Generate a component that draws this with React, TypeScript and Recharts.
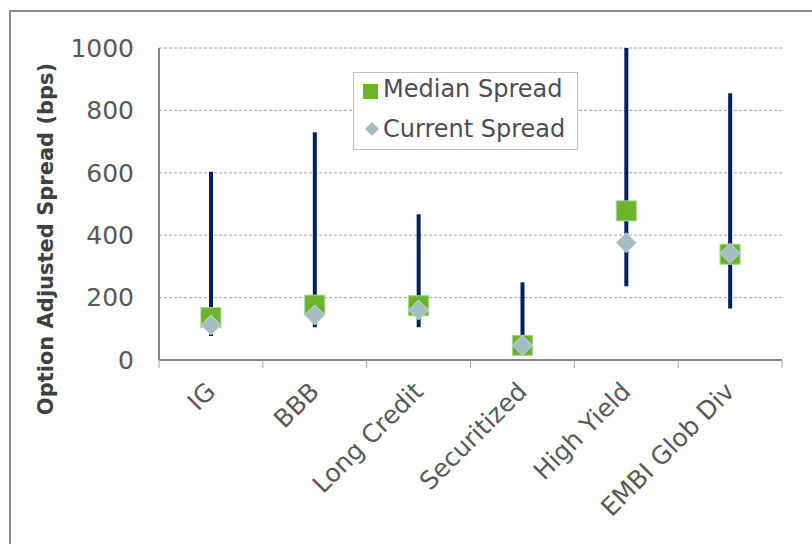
import { ComposedChart, Bar, Line, XAxis, YAxis, CartesianGrid, ReferenceArea, Legend } from 'recharts';

// Option adjusted spread ranges (bps)
const sectors = ['IG', 'BBB', 'Long Credit', 'Securitized', 'High Yield', 'EMBI Glob Div'];
const lowSpread = [77, 105, 105, 30, 236, 165];
const highSpread = [603, 730, 467, 249, 1000, 855];
const medianSpread = [136, 176, 174, 47, 478, 339];
const currentSpread = [112, 144, 160, 47, 376, 342];
const yTicks = [0, 200, 400, 600, 800, 1000];

const FONT = '"DejaVu Sans", Verdana, sans-serif';
const NAVY = '#002060';
const GREEN = '#6CB42C';
const GREY_BLUE = '#A3BDC0';

const data = sectors.map((name, i) => ({
  name,
  range: [lowSpread[i], highSpread[i]],
  median: medianSpread[i],
  current: currentSpread[i],
}));

function SquareDot(props: any) {
  const { cx, cy } = props;
  if (cx == null || cy == null) return null;
  return <rect x={cx - 10} y={cy - 10} width={20} height={20} fill={GREEN} stroke="#A9D18E" strokeWidth={1} />;
}

function DiamondDot(props: any) {
  const { cx, cy } = props;
  if (cx == null || cy == null) return null;
  const r = 10;
  return (
    <polygon
      points={`${cx},${cy - r} ${cx + r},${cy} ${cx},${cy + r} ${cx - r},${cy}`}
      fill={GREY_BLUE}
      stroke="#C9D8DA"
      strokeWidth={1}
    />
  );
}

// category label plus the tick marks on the band edges
function SectorTick(props: any) {
  const { x, y, payload, index, width } = props;
  const half = width / sectors.length / 2;
  const last = index === sectors.length - 1;
  return (
    <g>
      <line x1={x - half} x2={x - half} y1={y} y2={y + 8} stroke="#A6A6A6" />
      {last && <line x1={x + half} x2={x + half} y1={y} y2={y + 8} stroke="#A6A6A6" />}
      <text
        transform={`translate(${x + 6},${y + 33}) rotate(-45)`}
        textAnchor="end"
        fontFamily={FONT}
        fontSize={25}
        fill="#595959"
      >
        {payload.value}
      </text>
    </g>
  );
}

function LegendBox() {
  return (
    <div
      style={{
        width: 223,
        height: 76,
        border: '1px solid #BFBFBF',
        background: '#fff',
        fontFamily: FONT,
        fontSize: 24,
        color: '#4D4D55',
        position: 'relative',
      }}
    >
      <div style={{ position: 'absolute', left: 9, top: 11, width: 15, height: 15, background: GREEN }} />
      <div style={{ position: 'absolute', left: 29, top: 2, whiteSpace: 'nowrap' }}>Median Spread</div>
      <svg style={{ position: 'absolute', left: 11, top: 49 }} width={14} height={14}>
        <polygon points="7,0 14,7 7,14 0,7" fill={GREY_BLUE} />
      </svg>
      <div style={{ position: 'absolute', left: 29, top: 42, whiteSpace: 'nowrap' }}>Current Spread</div>
    </div>
  );
}

function AxisTitle() {
  return (
    <text
      x={46}
      y={239}
      transform="rotate(-90 46 239)"
      textAnchor="middle"
      dominantBaseline="central"
      fontFamily={FONT}
      fontWeight="bold"
      fontSize={21}
      fill="#404040"
    >
      Option Adjusted Spread (bps)
    </text>
  );
}

export default function App() {
  return (
    <div style={{ position: 'absolute', left: 0, top: 0, width: 812, height: 544, overflow: 'hidden', background: '#fff' }}>
      <div
        style={{
          position: 'absolute',
          left: 9,
          top: 10,
          width: 900,
          height: 600,
          borderLeft: '2px solid #8C8C8C',
          borderTop: '2px solid #8C8C8C',
        }}
      />
      <ComposedChart
        width={812}
        height={544}
        data={data}
        margin={{ top: 48, right: 30, bottom: 0, left: 0 }}
        style={{ position: 'absolute', left: 0, top: 0 }}
      >
        <CartesianGrid vertical={false} stroke="#A6A6A6" strokeDasharray="3 2" />
        <XAxis xAxisId="a" type="number" domain={[0, sectors.length]} height={0} hide />
        <XAxis
          xAxisId="b"
          dataKey="name"
          height={184}
          interval={0}
          axisLine={{ stroke: '#868686', strokeWidth: 2 }}
          tickLine={false}
          tickSize={0}
          tickMargin={0}
          tick={SectorTick}
        />
        <YAxis
          domain={[0, 1000]}
          ticks={yTicks}
          width={159}
          interval={0}
          allowDataOverflow
          axisLine={{ stroke: '#868686', strokeWidth: 2 }}
          tickLine={false}
          tickSize={0}
          tickMargin={25}
          tick={{ fill: '#595959', fontSize: 25, fontFamily: FONT }}
          label={<AxisTitle />}
        />
        <ReferenceArea xAxisId="a" x1={0} x2={sectors.length} y1={0} y2={1000} fill="none" stroke="#BFBFBF" strokeWidth={1} />
        <Bar xAxisId="b" dataKey="range" barSize={4} fill={NAVY} isAnimationActive={false} />
        <Line
          xAxisId="b"
          dataKey="median"
          stroke="none"
          dot={SquareDot}
          activeDot={false}
          isAnimationActive={false}
        />
        <Line
          xAxisId="b"
          dataKey="current"
          stroke="none"
          dot={DiamondDot}
          activeDot={false}
          isAnimationActive={false}
        />
        <Legend
          layout="vertical"
          align="center"
          verticalAlign="middle"
          content={LegendBox}
          wrapperStyle={{ left: 353, top: 72, width: 225, height: 78 }}
        />
      </ComposedChart>
    </div>
  );
}
